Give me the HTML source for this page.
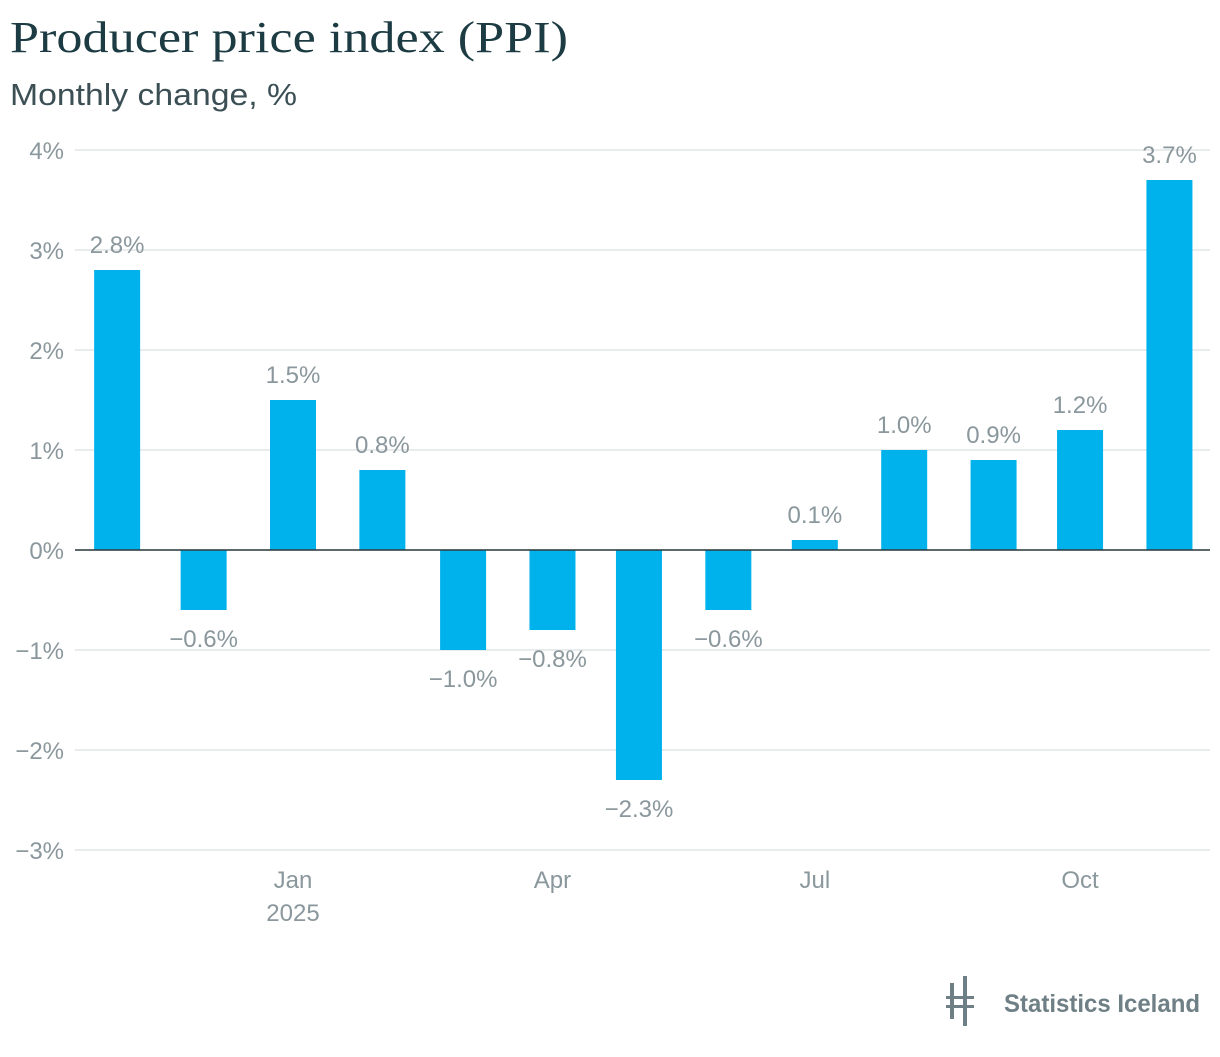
<!DOCTYPE html>
<html><head><meta charset="utf-8"><style>
body{margin:0;background:#fff;width:1220px;height:1052px;overflow:hidden;font-family:"Liberation Sans",sans-serif}
</style></head><body>
<svg width="1220" height="1052" xmlns="http://www.w3.org/2000/svg">
<text x="10" y="52" font-family="Liberation Serif,serif" font-size="44" fill="#1c3b42" textLength="558" lengthAdjust="spacingAndGlyphs">Producer price index (PPI)</text>
<text x="10" y="105" font-size="31" fill="#3b4f55" textLength="287" lengthAdjust="spacingAndGlyphs">Monthly change, %</text>
<g id="grid"></g><g id="bars"></g><g id="labels"></g><g id="xaxis"></g>
<g>
<rect x="950" y="983" width="4" height="36" fill="#6e7f85"/><rect x="963" y="976" width="4" height="50" fill="#6e7f85"/>
<rect x="946" y="996" width="28" height="3" fill="#6e7f85"/><rect x="946" y="1005" width="28" height="3" fill="#6e7f85"/>
<text x="1004" y="1012" font-size="25" font-weight="bold" fill="#6e7f85" textLength="196" lengthAdjust="spacingAndGlyphs">Statistics Iceland</text>
</g>
</svg>
<script>
const months=["2024-11","2024-12","2025-01","2025-02","2025-03","2025-04","2025-05","2025-06","2025-07","2025-08","2025-09","2025-10","2025-11"];
const values=[2.8,-0.6,1.5,0.8,-1.0,-0.8,-2.3,-0.6,0.1,1.0,0.9,1.2,3.7];
const yTicks=[4,3,2,1,0,-1,-2,-3];
const xTickMonths=["2025-01","2025-04","2025-07","2025-10"];
const xTickLabels=["Jan","Apr","Jul","Oct"];
const NS="http://www.w3.org/2000/svg";
const t0=Date.UTC(2025,0,15);
function x(m){const [y,mo]=m.split("-").map(Number);return 293+(Date.UTC(y,mo-1,15)-t0)/86400000*2.883;}
function y(v){return 550-v*100;}
function mk(tag,a,p){const e=document.createElementNS(NS,tag);for(const k in a)e.setAttribute(k,a[k]);p.appendChild(e);return e;}
const G=document.getElementById("grid"),B=document.getElementById("bars"),L=document.getElementById("labels"),X=document.getElementById("xaxis");
yTicks.forEach(v=>{
 const l=mk("line",{x1:75,x2:1210,y1:y(v),y2:y(v),stroke:"#e2e5e6","stroke-width":1.5},G);
 
 
 const t=mk("text",{x:64,y:y(v)+9,"text-anchor":"end","font-size":24,fill:"#8a979c"},G);
 
 
 t.textContent=(v<0?"\u2212":"")+Math.abs(v)+"%";
});
values.forEach((v,i)=>{
 const cx=x(months[i]);
 const r=mk("rect",{x:cx-23,width:46,y:Math.min(y(v),y(0)),height:Math.abs(y(v)-y(0)),fill:"#00b2eb"},B);
 
 
 const t=mk("text",{x:cx,y:v>=0?y(v)-17:y(v)+37,"text-anchor":"middle","font-size":24,fill:"#8a979c"},L);
 
 
 t.textContent=(v<0?"\u2212":"")+Math.abs(v).toFixed(1)+"%";
});
const ax=mk("line",{x1:75,x2:1210,y1:y(0),y2:y(0),stroke:"#2a3a3e","stroke-width":1.5},X);


xTickMonths.forEach((m,i)=>{
 const t=mk("text",{x:x(m),y:888,"text-anchor":"middle","font-size":24,fill:"#8a979c"},X);
 
 
 t.textContent=xTickLabels[i];
});
const yr=mk("text",{x:x("2025-01"),y:921,"text-anchor":"middle","font-size":24,fill:"#8a979c"},X);


yr.textContent="2025";
</script>
</body></html>
